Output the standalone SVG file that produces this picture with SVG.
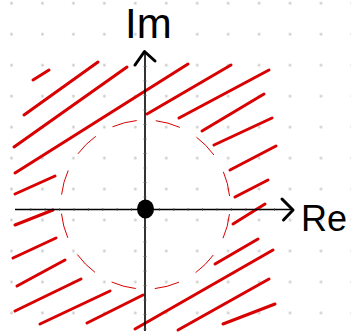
<svg xmlns="http://www.w3.org/2000/svg" width="351" height="334" viewBox="0 0 351 334">
  <defs>
    <pattern id="dots" patternUnits="userSpaceOnUse" x="-4" y="-12.2" width="30.95" height="30.97">
      <circle cx="15.5" cy="15.5" r="1.4" fill="#cfcfcf"/>
    </pattern>
    <style>
      .hatch { stroke: #d80000; stroke-width: 3; stroke-linecap: round; fill: none; }
      .axis { stroke: #000; stroke-width: 1.6; fill: none; }
      .tick { stroke: #555; stroke-width: 0.8; }
      .head { stroke: #000; stroke-width: 3; fill: none; stroke-linecap: round; stroke-linejoin: round; }
      .lbl { font-family: "Liberation Sans", Arial, sans-serif; fill: #000; }
    </style>
  </defs>
  <rect width="351" height="334" fill="#fff"/>
  <rect width="351" height="334" fill="url(#dots)"/>

  <g id="boundary">
    <circle cx="145.5" cy="204.6" r="84.5" fill="none" stroke="#d80000" stroke-width="1" stroke-dasharray="25 19.25" stroke-dashoffset="34.6"/>
  </g>

  <g id="hatching">
    <line class="hatch" x1="33" y1="80" x2="49" y2="70"/>
    <line class="hatch" x1="24" y1="115" x2="98" y2="62"/>
    <line class="hatch" x1="14" y1="147" x2="127" y2="67"/>
    <line class="hatch" x1="15" y1="173" x2="188" y2="64"/>
    <line class="hatch" x1="147" y1="114" x2="231" y2="65"/>
    <line class="hatch" x1="179" y1="118" x2="269" y2="70"/>
    <line class="hatch" x1="202" y1="131" x2="264" y2="94"/>
    <line class="hatch" x1="214" y1="145" x2="272" y2="118"/>
    <line class="hatch" x1="230" y1="170" x2="276" y2="146"/>
    <line class="hatch" x1="15" y1="194" x2="55" y2="176"/>
    <line class="hatch" x1="235" y1="197" x2="268" y2="180"/>
    <line class="hatch" x1="15" y1="225" x2="53" y2="210"/>
    <line class="hatch" x1="233" y1="224" x2="265" y2="204"/>
    <line class="hatch" x1="13" y1="258" x2="56" y2="238"/>
    <line class="hatch" x1="215" y1="264" x2="258" y2="239"/>
    <line class="hatch" x1="17" y1="286" x2="65" y2="260"/>
    <line class="hatch" x1="135" y1="329" x2="273" y2="250"/>
    <line class="hatch" x1="15" y1="311" x2="81" y2="279"/>
    <line class="hatch" x1="40" y1="324" x2="110" y2="291"/>
    <line class="hatch" x1="87" y1="323" x2="143" y2="295"/>
    <line class="hatch" x1="178" y1="330" x2="269" y2="279"/>
    <line class="hatch" x1="223" y1="324" x2="275" y2="304"/>
  </g>

  <g id="axes">
    <line class="axis" x1="15" y1="209.5" x2="292" y2="209.5"/>
    <line class="axis" x1="145" y1="52" x2="145" y2="331"/>
    <g class="tick">
      <path d="M30.8 208v3M45.2 208v3M59.6 208v3M74 208v3M88.4 208v3M102.8 208v3M117.2 208v3M131.6 208v3M159.4 208v3M173.8 208v3M188.2 208v3M202.6 208v3M217 208v3M231.4 208v3M245.8 208v3M260.2 208v3M274.6 208v3"/>
      <path d="M143.5 66.5h3M143.5 81h3M143.5 95.5h3M143.5 110h3M143.5 124.5h3M143.5 139h3M143.5 153.5h3M143.5 168h3M143.5 182.5h3M143.5 197h3M143.5 227.5h3M143.5 242h3M143.5 256.5h3M143.5 271h3M143.5 285.5h3M143.5 300h3M143.5 314.5h3M143.5 329h3"/>
    </g>
    <polyline class="head" points="135,65 144.5,51.5 155,61"/>
    <polyline class="head" points="282,199 293,210 283.5,220"/>
  </g>

  <g id="origin">
    <ellipse cx="145.5" cy="209" rx="8.5" ry="9.5" fill="#000"/>
  </g>

  <g id="label-im">
    <text class="lbl" x="125" y="38" font-size="42">Im</text>
  </g>
  <g id="label-re">
    <text class="lbl" x="301" y="231" font-size="36">Re</text>
  </g>
</svg>
